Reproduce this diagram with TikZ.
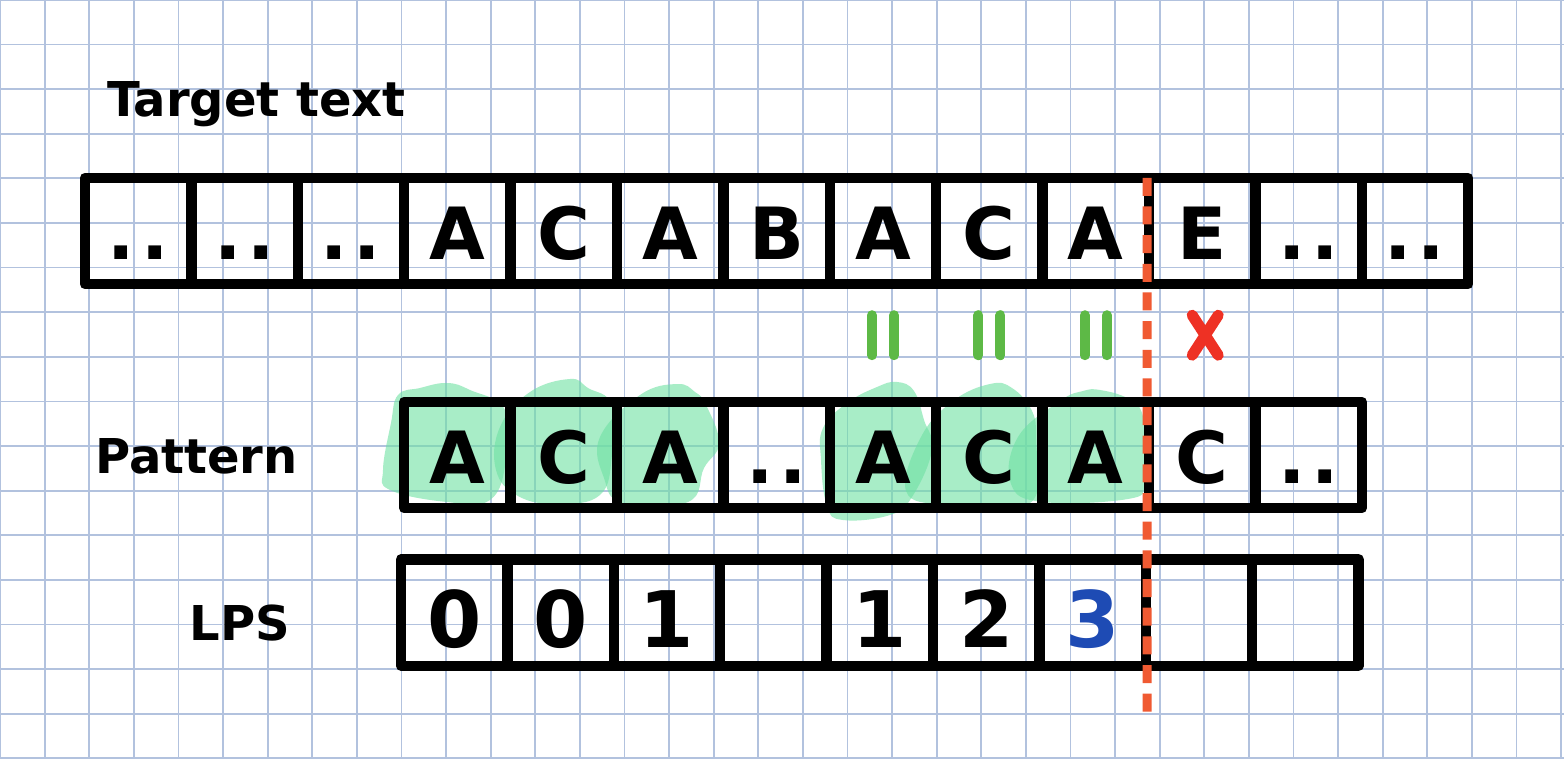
\documentclass[tikz,border=0pt]{standalone}
\usepackage{fontspec}
\setmainfont{DejaVu Sans}
\usetikzlibrary{positioning}

\definecolor{gridblue}{HTML}{B2C2DE}
\definecolor{hilite}{HTML}{6EE1A3}
\definecolor{cutorange}{HTML}{F05A32}
\definecolor{eqgreen}{HTML}{5DB946}
\definecolor{missred}{HTML}{EE3124}
\definecolor{lpsblue}{HTML}{1E4BB4}

\newcommand{\gapdots}{.\kern3pt.}

\tikzset{
	cell/.style={draw, line width=5.2pt, line join=round, minimum width=53.2pt, minimum height=53.2pt,
		inner sep=0pt, outer sep=0pt, font=\fontsize{36}{38}\selectfont\bfseries,
		text height=28.5pt, text depth=0pt},
	lpscell/.style={cell, font=\fontsize{39}{41}\selectfont\bfseries, text height=34.5pt},
	caption/.style={anchor=base, font=\fontsize{24}{26}\selectfont\bfseries},
	blob/.style={fill=hilite, fill opacity=0.6},
	cutline/.style={draw=cutorange, line width=4.5pt, dash pattern=on 9pt off 5.33pt},
	eqbar/.style={draw=eqgreen, line width=5pt, line cap=round},
	missmark/.style={draw=missred, line width=5.5pt, line cap=round}
}

\begin{document}
\begin{tikzpicture}[x=0.5pt, y=-0.5pt]
	\fill[white] (0,0) rectangle (1564,759);
	\useasboundingbox (0,0) rectangle (1564,759);
	\draw[gridblue, line width=0.9pt, step=22.3pt] (0,0) grid (1564,759);
	
	% highlighted prefix and suffix
	\fill[blob] plot[smooth cycle, tension=0.7] coordinates {(398,395) (420,388) (447,383) (470,390) (505,410) (506,460) (490,500) (447,502) (390,490) (383,470) (391,423)};
	\fill[blob] plot[smooth cycle, tension=0.7] coordinates {(530,392) (570,379) (588,388) (612,405) (612,455) (600,495) (557,504) (518,496) (496,470) (500,427)};
	\fill[blob] plot[smooth cycle, tension=0.7] coordinates {(640,395) (677,384) (695,392) (706,405) (719,443) (704,468) (688,502) (623,503) (604,478) (600,437)};
	\fill[blob] plot[smooth cycle, tension=0.7] coordinates {(847,403) (877,387) (897,382) (914,391) (924,420) (932,450) (912,497) (890,515) (843,520) (827,506) (821,460) (823,428)};
	\fill[blob] plot[smooth cycle, tension=0.7] coordinates {(921,437) (953,401) (990,384) (1012,388) (1032,411) (1036,440) (1034,499) (990,505) (943,505) (906,491)};
	\fill[blob] plot[smooth cycle, tension=0.7] coordinates {(1060,401) (1083,391) (1100,390) (1127,398) (1142,413) (1145,450) (1145,484) (1128,499) (1043,502) (1011,484) (1018,437)};
	
	% target text
	\node[cell] (t1) at (138.2,231) {\gapdots};
	\foreach \lbl [count=\i from 2, remember=\i as \j (initially 1)] in {\gapdots,\gapdots,A,C,A,B,A,C,A,E,\gapdots,\gapdots}
		\node[cell, right=0pt of t\j] (t\i) {\lbl};
	
	% pattern
	\node[cell] (p1) at (457.4,455) {A};
	\foreach \lbl [count=\i from 2, remember=\i as \j (initially 1)] in {C,A,\gapdots,A,C,A,C,\gapdots}
		\node[cell, right=0pt of p\j] (p\i) {\lbl};
	
	% lps table
	\node[lpscell] (l1) at (454.2,612.5) {0};
	\foreach \lbl [count=\i from 2, remember=\i as \j (initially 1)] in {0,1,{},1,2,\textcolor{lpsblue}{3},{},{}}
		\node[lpscell, right=0pt of l\j] (l\i) {\lbl};
	
	\node[caption] (tgtlabel) at (256.5,117) {Target text};
	\node[caption] (patlabel) at (196.5,473) {Pattern};
	\node[caption] (lpslabel) at (240,640) {LPS};
	
	% mismatch position
	\coordinate (cutend) at (1147,712);
	\draw[cutline] ([xshift=-1pt]t11.north west) -- (cutend);
	
	\foreach \c in {t8,t9,t10} {
		\path (\c.south) ++(0,51) coordinate (eq\c);
		\draw[eqbar] (eq\c) ++(-11,-20) -- ++(0,40) (eq\c) ++(11,-20) -- ++(0,40);
	}
	\path (t11.south) ++(3,51) coordinate (miss);
	\draw[missmark] (miss) ++(-13,-20) -- ++(26,40) (miss) ++(13,-20) -- ++(-26,40);
\end{tikzpicture}
\end{document}
